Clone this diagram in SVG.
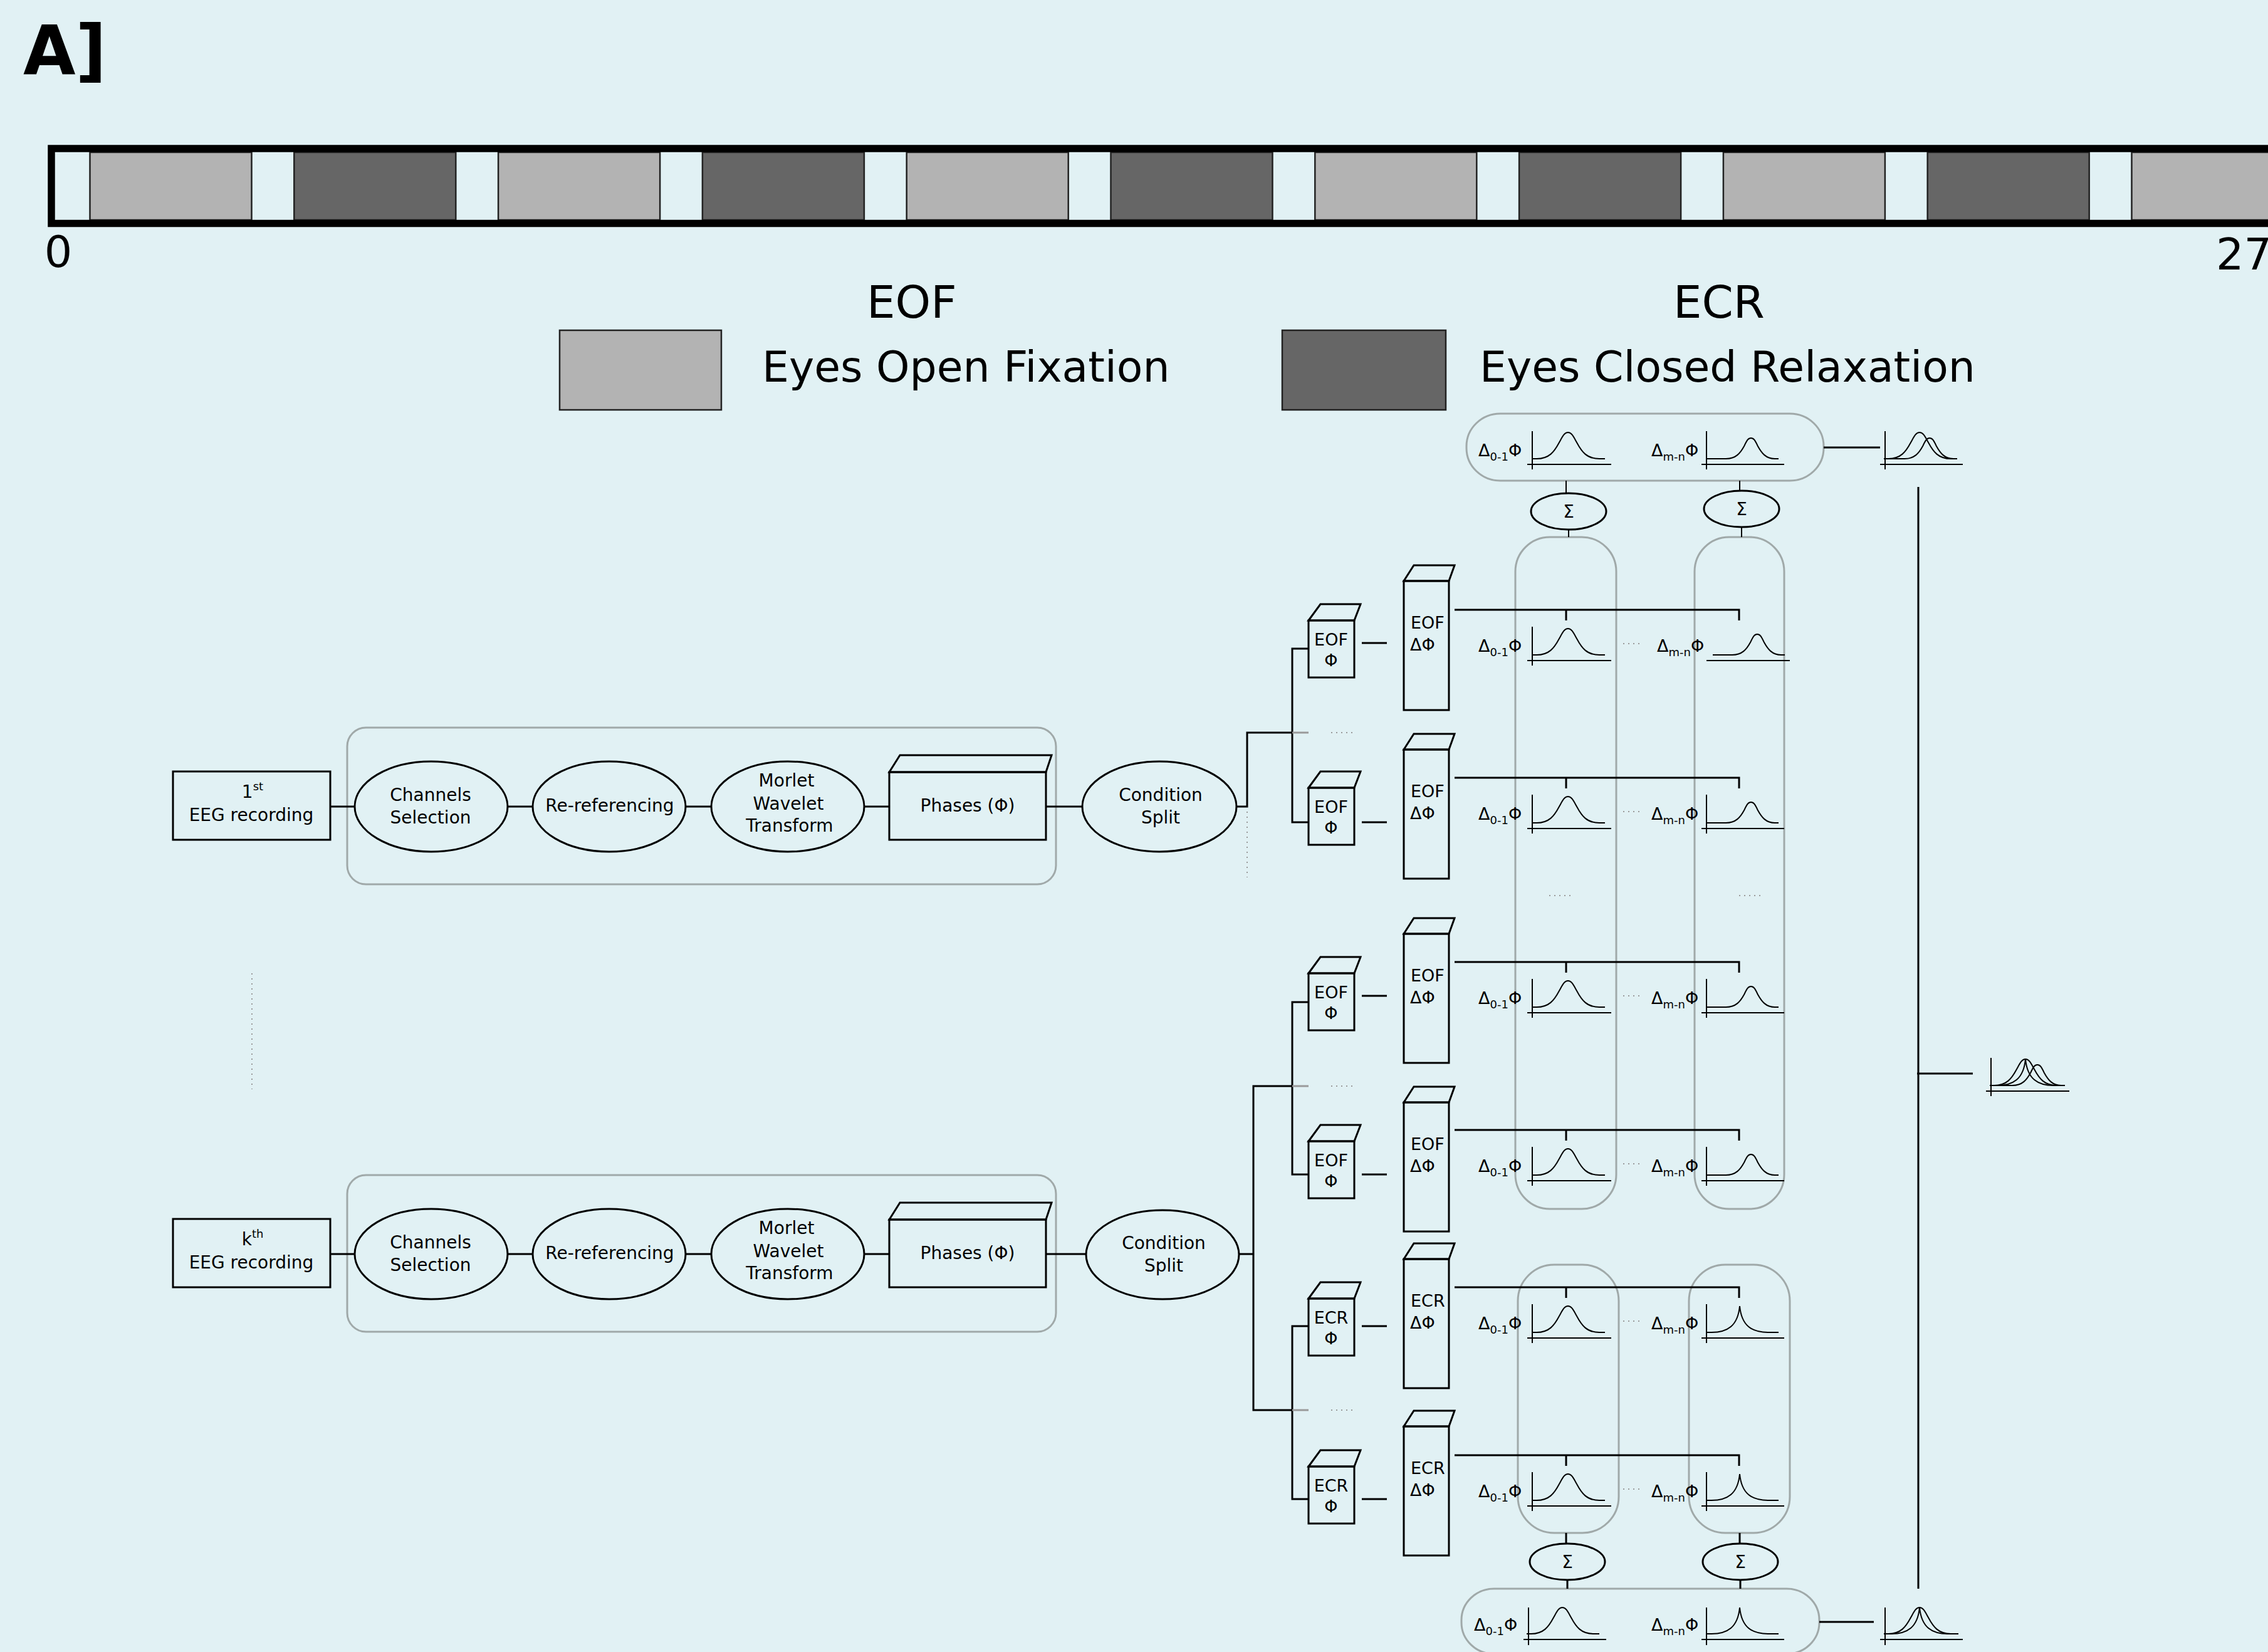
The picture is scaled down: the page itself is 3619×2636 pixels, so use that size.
<svg xmlns="http://www.w3.org/2000/svg" xmlns:xlink="http://www.w3.org/1999/xlink" width="3619" height="2636" viewBox="0 0 3619 2636">
<style>
.t{font-family:"DejaVu Sans","Liberation Sans",sans-serif;fill:#000}
.m{text-anchor:middle}
.f28{font-size:28px}
.f27{font-size:27px}
.lab{font-size:27px}
.sub{font-size:18px}
.n{fill:none;stroke:#000;stroke-width:3}
.c{fill:none;stroke:#000;stroke-width:3}
.ax{fill:none;stroke:#000;stroke-width:2}
.cv{fill:none;stroke:#000;stroke-width:2}
.grp{fill:none;stroke:#a0a9a9;stroke-width:3}
.dot{fill:none;stroke:#9a9a9a;stroke-width:2;stroke-dasharray:2 6}
.gl{fill:none;stroke:#9a9a9a;stroke-width:3}
.lt{fill:#b3b3b3;stroke:#222;stroke-width:2.5}
.dk{fill:#666666;stroke:#222;stroke-width:2.5}
</style>
<defs>
<path id="gt" class="cv" d="M-57,0 L-50,0 C-30,0 -22,-11 -14,-26 C-9,-35 -6,-42 0,-42 C6,-42 9,-35 14,-26 C22,-11 30,0 50,0 L59,0"/>
<path id="gs" class="cv" d="M-71,0 L-40,0 C-24,0 -17,-9 -11,-20 C-7,-28 -5,-33 0,-33 C5,-33 7,-28 11,-20 C17,-9 24,0 38,0 L44,0"/>
<path id="gl" class="cv" d="M-53,0 L-45,0 C-20,0 -3,-10 0,-42 C3,-10 20,0 45,0 L62,0"/>
</defs>
<rect x="0" y="0" width="3619" height="2636" fill="#e1f1f4"/>

<g id="title"><text class="t" x="37" y="118" font-size="108" font-weight="bold">A]</text></g>

<g id="timeline">
<rect class="lt" x="143.5" y="243" width="258" height="108"/>
<rect class="dk" x="469.3" y="243" width="258" height="108"/>
<rect class="lt" x="795.1" y="243" width="258" height="108"/>
<rect class="dk" x="1120.9" y="243" width="258" height="108"/>
<rect class="lt" x="1446.7" y="243" width="258" height="108"/>
<rect class="dk" x="1772.5" y="243" width="258" height="108"/>
<rect class="lt" x="2098.3" y="243" width="258" height="108"/>
<rect class="dk" x="2424.1" y="243" width="258" height="108"/>
<rect class="lt" x="2749.9" y="243" width="258" height="108"/>
<rect class="dk" x="3075.7" y="243" width="258" height="108"/>
<rect class="lt" x="3401.5" y="243" width="258" height="108"/>
<rect x="82" y="237" width="3700" height="119.5" fill="none" stroke="#000" stroke-width="11.5"/>
<text class="t m" x="93" y="426" font-size="70">0</text>
<text class="t" x="3536" y="430" font-size="70">27</text>
</g>

<g id="legend">
<text class="t" x="1383" y="507" font-size="72">EOF</text>
<text class="t" x="2670" y="507" font-size="72">ECR</text>
<rect class="lt" x="893" y="527" width="258" height="127" stroke-width="3"/>
<text class="t" x="1216" y="609" font-size="68">Eyes Open Fixation</text>
<rect class="dk" x="2046" y="527" width="261" height="127" stroke-width="3"/>
<text class="t" x="2361" y="609" font-size="68">Eyes Closed Relaxation</text>
</g>

<!-- Subject 1 pipeline -->
<g id="eeg-1"><rect class="n" x="276" y="1231" width="251" height="109"/>
<text class="t m f28" x="403" y="1273">1<tspan font-size="18" dy="-12">st</tspan></text>
<text class="t m f28" x="401" y="1310">EEG recording</text></g>
<g id="preproc-1"><rect class="grp" x="554" y="1161" width="1131" height="250" rx="30"/></g>
<g id="chan-1"><ellipse class="n" cx="688" cy="1287" rx="122" ry="72"/>
<text class="t m f28" x="687" y="1278">Channels</text><text class="t m f28" x="687" y="1314">Selection</text></g>
<g id="reref-1"><ellipse class="n" cx="972" cy="1287" rx="122" ry="72"/>
<text class="t m f28" x="973" y="1295">Re-referencing</text></g>
<g id="morlet-1"><ellipse class="n" cx="1257" cy="1287" rx="122" ry="72"/>
<text class="t m f28" x="1255" y="1255">Morlet</text><text class="t m f28" x="1258" y="1292">Wavelet</text><text class="t m f28" x="1260" y="1327">Transform</text></g>
<g id="phases-1"><polygon class="n" points="1419,1232 1436,1205 1678,1205 1669,1232"/><rect class="n" x="1419" y="1232" width="250" height="108"/>
<text class="t m f28" x="1544" y="1295">Phases (Φ)</text></g>
<g id="split-1"><ellipse class="n" cx="1850" cy="1287" rx="123" ry="72"/>
<text class="t m f28" x="1852" y="1278">Condition</text><text class="t m f28" x="1852" y="1314">Split</text></g>

<!-- Subject k pipeline -->
<g id="eeg-k"><rect class="n" x="276" y="1945" width="251" height="109"/>
<text class="t m f28" x="403" y="1987">k<tspan font-size="18" dy="-12">th</tspan></text>
<text class="t m f28" x="401" y="2024">EEG recording</text></g>
<g id="preproc-k"><rect class="grp" x="554" y="1875" width="1131" height="250" rx="30"/></g>
<g id="chan-k"><ellipse class="n" cx="688" cy="2001" rx="122" ry="72"/>
<text class="t m f28" x="687" y="1992">Channels</text><text class="t m f28" x="687" y="2028">Selection</text></g>
<g id="reref-k"><ellipse class="n" cx="972" cy="2001" rx="122" ry="72"/>
<text class="t m f28" x="973" y="2009">Re-referencing</text></g>
<g id="morlet-k"><ellipse class="n" cx="1257" cy="2001" rx="122" ry="72"/>
<text class="t m f28" x="1255" y="1969">Morlet</text><text class="t m f28" x="1258" y="2006">Wavelet</text><text class="t m f28" x="1260" y="2041">Transform</text></g>
<g id="phases-k"><polygon class="n" points="1419,1946 1436,1919 1678,1919 1669,1946"/><rect class="n" x="1419" y="1946" width="250" height="108"/>
<text class="t m f28" x="1544" y="2009">Phases (Φ)</text></g>
<g id="split-k"><ellipse class="n" cx="1855" cy="2002" rx="122" ry="71"/>
<text class="t m f28" x="1857" y="1993">Condition</text><text class="t m f28" x="1857" y="2029">Split</text></g>

<!-- small phase boxes -->
<g id="phi-1"><polygon class="n" points="2088,990 2107,964 2171,964 2161,990"/><rect class="n" x="2088" y="990" width="73" height="91"/>
<text class="t m f27" x="2124" y="1030">EOF</text><text class="t m f27" x="2124" y="1063">Φ</text></g>
<g id="phi-2"><polygon class="n" points="2088,1257 2107,1231 2171,1231 2161,1257"/><rect class="n" x="2088" y="1257" width="73" height="91"/>
<text class="t m f27" x="2124" y="1297">EOF</text><text class="t m f27" x="2124" y="1330">Φ</text></g>
<g id="phi-3"><polygon class="n" points="2088,1553 2107,1527 2171,1527 2161,1553"/><rect class="n" x="2088" y="1553" width="73" height="91"/>
<text class="t m f27" x="2124" y="1593">EOF</text><text class="t m f27" x="2124" y="1626">Φ</text></g>
<g id="phi-4"><polygon class="n" points="2088,1821 2107,1795 2171,1795 2161,1821"/><rect class="n" x="2088" y="1821" width="73" height="91"/>
<text class="t m f27" x="2124" y="1861">EOF</text><text class="t m f27" x="2124" y="1894">Φ</text></g>
<g id="phi-5"><polygon class="n" points="2088,2072 2107,2046 2171,2046 2161,2072"/><rect class="n" x="2088" y="2072" width="73" height="91"/>
<text class="t m f27" x="2124" y="2112">ECR</text><text class="t m f27" x="2124" y="2145">Φ</text></g>
<g id="phi-6"><polygon class="n" points="2088,2340 2107,2314 2171,2314 2161,2340"/><rect class="n" x="2088" y="2340" width="73" height="91"/>
<text class="t m f27" x="2124" y="2380">ECR</text><text class="t m f27" x="2124" y="2413">Φ</text></g>

<!-- tall delta-phase boxes -->
<g id="dphi-1"><polygon class="n" points="2240,927 2256,902 2321,902 2312,927"/><rect class="n" x="2240" y="927" width="72" height="206"/>
<text class="t f27" x="2251" y="1003">EOF</text><text class="t f27" x="2250" y="1038">ΔΦ</text></g>
<g id="dphi-2"><polygon class="n" points="2240,1196 2256,1171 2321,1171 2312,1196"/><rect class="n" x="2240" y="1196" width="72" height="206"/>
<text class="t f27" x="2251" y="1272">EOF</text><text class="t f27" x="2250" y="1307">ΔΦ</text></g>
<g id="dphi-3"><polygon class="n" points="2240,1490 2256,1465 2321,1465 2312,1490"/><rect class="n" x="2240" y="1490" width="72" height="206"/>
<text class="t f27" x="2251" y="1566">EOF</text><text class="t f27" x="2250" y="1601">ΔΦ</text></g>
<g id="dphi-4"><polygon class="n" points="2240,1759 2256,1734 2321,1734 2312,1759"/><rect class="n" x="2240" y="1759" width="72" height="206"/>
<text class="t f27" x="2251" y="1835">EOF</text><text class="t f27" x="2250" y="1870">ΔΦ</text></g>
<g id="dphi-5"><polygon class="n" points="2240,2009 2256,1984 2321,1984 2312,2009"/><rect class="n" x="2240" y="2009" width="72" height="206"/>
<text class="t f27" x="2251" y="2085">ECR</text><text class="t f27" x="2250" y="2120">ΔΦ</text></g>
<g id="dphi-6"><polygon class="n" points="2240,2276 2256,2251 2321,2251 2312,2276"/><rect class="n" x="2240" y="2276" width="72" height="206"/>
<text class="t f27" x="2251" y="2352">ECR</text><text class="t f27" x="2250" y="2387">ΔΦ</text></g>

<!-- gray aggregation columns -->
<g id="col-eof-01"><rect class="grp" x="2418" y="857" width="161" height="1072" rx="55" ry="55"/></g>
<g id="col-eof-mn"><rect class="grp" x="2704" y="857" width="143" height="1072" rx="55" ry="55"/></g>
<g id="col-ecr-01"><rect class="grp" x="2422" y="2018" width="161" height="428" rx="58" ry="58"/></g>
<g id="col-ecr-mn"><rect class="grp" x="2695" y="2018" width="161" height="428" rx="58" ry="58"/></g>
<g id="col-dots"><path class="dot" d="M2472,1429H2510M2775,1429H2813"/></g>

<!-- per-row distributions -->
<g id="dist-1">
<text class="t lab" x="2359" y="1040">Δ<tspan class="sub" dy="7">0-1</tspan><tspan dy="-7">Φ</tspan></text>
<path class="ax" d="M2445,1000V1062M2437,1054H2571"/><use href="#gt" x="2502" y="1045"/>
<path class="dot" d="M2590,1027H2618"/>
<text class="t lab" x="2644" y="1040">Δ<tspan class="sub" dy="7">m-n</tspan><tspan dy="-7">Φ</tspan></text>
<path class="ax" d="M2723,1054H2856"/><use href="#gs" x="2804" y="1045"/>
</g>
<g id="dist-2">
<text class="t lab" x="2359" y="1308">Δ<tspan class="sub" dy="7">0-1</tspan><tspan dy="-7">Φ</tspan></text>
<path class="ax" d="M2445,1268V1330M2437,1322H2571"/><use href="#gt" x="2502" y="1313"/>
<path class="dot" d="M2590,1295H2618"/>
<text class="t lab" x="2635" y="1308">Δ<tspan class="sub" dy="7">m-n</tspan><tspan dy="-7">Φ</tspan></text>
<path class="ax" d="M2723,1268V1330M2715,1322H2847"/><use href="#gs" x="2794" y="1313"/>
</g>
<g id="dist-3">
<text class="t lab" x="2359" y="1602">Δ<tspan class="sub" dy="7">0-1</tspan><tspan dy="-7">Φ</tspan></text>
<path class="ax" d="M2445,1562V1624M2437,1616H2571"/><use href="#gt" x="2502" y="1607"/>
<path class="dot" d="M2590,1589H2618"/>
<text class="t lab" x="2635" y="1602">Δ<tspan class="sub" dy="7">m-n</tspan><tspan dy="-7">Φ</tspan></text>
<path class="ax" d="M2723,1562V1624M2715,1616H2847"/><use href="#gs" x="2794" y="1607"/>
</g>
<g id="dist-4">
<text class="t lab" x="2359" y="1870">Δ<tspan class="sub" dy="7">0-1</tspan><tspan dy="-7">Φ</tspan></text>
<path class="ax" d="M2445,1830V1892M2437,1884H2571"/><use href="#gt" x="2502" y="1875"/>
<path class="dot" d="M2590,1857H2618"/>
<text class="t lab" x="2635" y="1870">Δ<tspan class="sub" dy="7">m-n</tspan><tspan dy="-7">Φ</tspan></text>
<path class="ax" d="M2723,1830V1892M2715,1884H2847"/><use href="#gs" x="2794" y="1875"/>
</g>
<g id="dist-5">
<text class="t lab" x="2359" y="2121">Δ<tspan class="sub" dy="7">0-1</tspan><tspan dy="-7">Φ</tspan></text>
<path class="ax" d="M2445,2081V2143M2437,2135H2571"/><use href="#gt" x="2502" y="2126"/>
<path class="dot" d="M2590,2108H2618"/>
<text class="t lab" x="2635" y="2121">Δ<tspan class="sub" dy="7">m-n</tspan><tspan dy="-7">Φ</tspan></text>
<path class="ax" d="M2723,2081V2143M2715,2135H2847"/><use href="#gl" x="2776" y="2126"/>
</g>
<g id="dist-6">
<text class="t lab" x="2359" y="2389">Δ<tspan class="sub" dy="7">0-1</tspan><tspan dy="-7">Φ</tspan></text>
<path class="ax" d="M2445,2349V2411M2437,2403H2571"/><use href="#gt" x="2502" y="2394"/>
<path class="dot" d="M2590,2376H2618"/>
<text class="t lab" x="2635" y="2389">Δ<tspan class="sub" dy="7">m-n</tspan><tspan dy="-7">Φ</tspan></text>
<path class="ax" d="M2723,2349V2411M2715,2403H2847"/><use href="#gl" x="2776" y="2394"/>
</g>

<!-- sums -->
<g id="sum-eof-01"><ellipse class="n" cx="2503" cy="816" rx="60" ry="29" stroke-width="4"/><text class="t m f28" x="2503" y="826">Σ</text></g>
<g id="sum-eof-mn"><ellipse class="n" cx="2779" cy="812" rx="60" ry="29" stroke-width="4"/><text class="t m f28" x="2779" y="822">Σ</text></g>
<g id="sum-ecr-01"><ellipse class="n" cx="2501" cy="2492" rx="60" ry="29" stroke-width="4"/><text class="t m f28" x="2501" y="2502">Σ</text></g>
<g id="sum-ecr-mn"><ellipse class="n" cx="2777" cy="2492" rx="60" ry="29" stroke-width="4"/><text class="t m f28" x="2777" y="2502">Σ</text></g>

<!-- aggregated EOF -->
<g id="agg-eof"><rect class="grp" x="2340" y="660" width="570" height="107" rx="54" ry="52"/>
<text class="t lab" x="2359" y="728">Δ<tspan class="sub" dy="7">0-1</tspan><tspan dy="-7">Φ</tspan></text>
<path class="ax" d="M2445,688V749M2437,741H2571"/><use href="#gt" x="2502" y="732"/>
<text class="t lab" x="2635" y="728">Δ<tspan class="sub" dy="7">m-n</tspan><tspan dy="-7">Φ</tspan></text>
<path class="ax" d="M2723,688V749M2715,741H2847"/><use href="#gs" x="2794" y="732"/>
</g>
<!-- aggregated ECR -->
<g id="agg-ecr"><rect class="grp" x="2332" y="2535" width="571" height="104" rx="52" ry="50"/>
<text class="t lab" x="2352" y="2602">Δ<tspan class="sub" dy="7">0-1</tspan><tspan dy="-7">Φ</tspan></text>
<path class="ax" d="M2439,2565V2625M2431,2616H2563"/><use href="#gt" x="2493" y="2607"/>
<text class="t lab" x="2635" y="2602">Δ<tspan class="sub" dy="7">m-n</tspan><tspan dy="-7">Φ</tspan></text>
<path class="ax" d="M2723,2565V2625M2715,2616H2847"/><use href="#gl" x="2776" y="2607"/>
</g>

<!-- combined outputs -->
<g id="out-eof"><path class="ax" d="M3008,688V749M3000,741H3132"/><use href="#gt" x="3063" y="732"/><use href="#gs" x="3079" y="732"/></g>
<g id="out-all"><path class="ax" d="M3177,1688V1749M3169,1741H3302"/><use href="#gt" x="3232" y="1732"/><use href="#gl" x="3232" y="1732"/><use href="#gs" x="3251" y="1732"/></g>
<g id="out-ecr"><path class="ax" d="M3008,2565V2625M3000,2616H3132"/><use href="#gt" x="3063" y="2607"/><use href="#gl" x="3063" y="2607"/></g>

<!-- connectors -->
<g id="connectors">
<path class="c" d="M527,1287H566M810,1287H850M1094,1287H1135M1379,1287H1419M1669,1287H1727"/>
<path class="c" d="M527,2001H566M810,2001H850M1094,2001H1135M1379,2001H1419M1669,2001H1733"/>
<path class="c" d="M1973,1287H1990V1169H2062"/>
<path class="c" d="M2088,1035H2062V1312H2088"/>
<path class="gl" d="M2062,1169H2088"/>
<path class="dot" d="M2124,1169H2162"/>
<path class="dot" d="M1990,1295V1400"/>
<path class="c" d="M1978,2001H2000M2062,1733H2000V2250H2062"/>
<path class="c" d="M2088,1599H2062V1874H2088"/>
<path class="c" d="M2088,2116H2062V2392H2088"/>
<path class="gl" d="M2062,1733H2088M2062,2250H2088"/>
<path class="dot" d="M2124,1733H2162M2124,2250H2162"/>
<path class="dot" d="M402,1553V1738"/>
<path class="c" d="M2173,1026H2213M2173,1312H2213M2173,1589H2213M2173,1874H2213M2173,2116H2213M2173,2392H2213"/>
<path class="c" d="M2321,973H2775V990M2499,973V990"/>
<path class="c" d="M2321,1241H2775V1258M2499,1241V1258"/>
<path class="c" d="M2321,1535H2775V1552M2499,1535V1552"/>
<path class="c" d="M2321,1803H2775V1820M2499,1803V1820"/>
<path class="c" d="M2321,2054H2775V2071M2499,2054V2071"/>
<path class="c" d="M2321,2322H2775V2339M2499,2322V2339"/>
<path class="ax" d="M2499,767V787M2503,845V857M2776,767V783M2779,841V857"/>
<path class="c" d="M2499,2446V2463M2501,2521V2535M2776,2446V2463M2777,2521V2535"/>
<path class="c" d="M2910,714H3000"/>
<path class="c" d="M2903,2588H2990"/>
<path class="c" stroke-width="4" d="M3061,777V2535"/>
<path class="c" d="M3059,1713H3148"/>
</g>
</svg>
